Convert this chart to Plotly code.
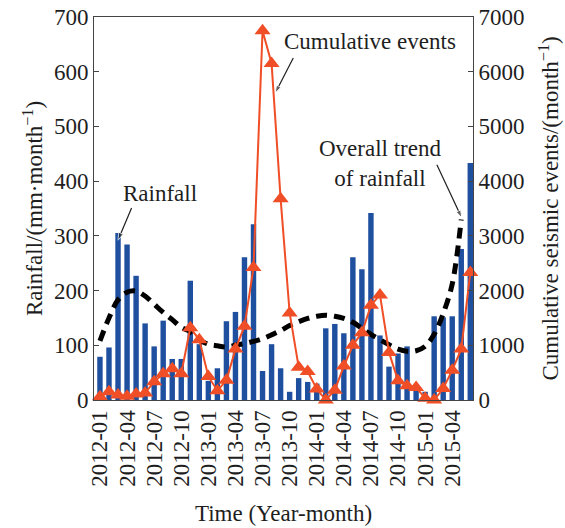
import plotly.graph_objects as go

# Monthly series, 2012-01 .. 2015-06 (month index 0..41)
rainfall = [
    79, 96, 305, 284, 227, 140, 98, 145, 75, 75, 218, 102,      # 2012
    35, 58, 144, 161, 261, 321, 53, 102, 58, 15, 40, 33,        # 2013
    30, 131, 139, 122, 261, 239, 342, 118, 61, 85, 98, 25,      # 2014
    15, 153, 151, 153, 276, 433,                                # 2015
]

events = [
    60, 150, 90, 70, 110, 130, 333, 480, 570, 480, 1320, 1100,          # 2012
    430, 170, 360, 930, 1350, 2420, 6750, 6150, 3680, 1590, 600, 520,   # 2013
    200, 0, 180, 620, 1000, 1230, 1730, 1920, 870, 350, 260, 230,       # 2014
    30, 0, 210, 545, 930, 2330,                                         # 2015
]

# Smoothed overall rainfall trend, months 0..40
trend = [
    108, 150, 183, 197, 199, 190, 175, 160, 147, 133, 125, 110,
    102, 99, 97, 100, 103, 107, 112, 119, 127, 136, 143, 149,
    153, 155, 153, 149, 142, 131, 120, 110, 101, 93, 89, 90,
    98, 120, 158, 212, 330,
]

tick_months = [0, 3, 6, 9, 12, 15, 18, 21, 24, 27, 30, 33, 36, 39]
tick_labels = [
    "2012-01", "2012-04", "2012-07", "2012-10", "2013-01", "2013-04", "2013-07",
    "2013-10", "2014-01", "2014-04", "2014-07", "2014-10", "2015-01", "2015-04",
]

# Callout pointers: (tail month, tail rainfall) -> (head month, head rainfall)
pointers = {
    "Cumulative events": ((21.4, 625), (19.4, 561)),
    "Overall trend of rainfall": ((37.3, 430), (40.05, 333)),
    "Rainfall": ((3.5, 351), (2.0, 292)),
}

month_idx = list(range(len(rainfall)))
trend_idx = list(range(len(trend)))

FONT = "Liberation Serif"
FS = 23
INK = "#1e1e1e"
BLUE = "#1f4f9f"
RED = "#f04e26"

fig = go.Figure()

fig.add_trace(go.Bar(
    x=month_idx, y=rainfall, width=0.6,
    marker=dict(color=BLUE, line=dict(width=0)),
    yaxis="y",
))

fig.add_trace(go.Scatter(
    x=trend_idx, y=trend, mode="lines",
    line=dict(color="black", width=5, dash="11px,7px", shape="spline", smoothing=1.0),
    yaxis="y",
))

# Callout arrows drawn as short lines ending in an arrow marker
for (tx, ty), (hx, hy) in pointers.values():
    fig.add_trace(go.Scatter(
        x=[tx, hx], y=[ty, hy], mode="lines+markers",
        line=dict(color=INK, width=1.2),
        marker=dict(symbol="arrow", size=[0, 8], angleref="previous", color=INK),
        cliponaxis=False, yaxis="y",
    ))

fig.add_trace(go.Scatter(
    x=month_idx, y=events, mode="lines+markers",
    line=dict(color=RED, width=2),
    marker=dict(symbol="triangle-up", size=14, color=RED),
    cliponaxis=False,
    yaxis="y2",
))

label_font = dict(family=FONT, size=FS, color=INK)

annotations = [
    dict(x=29.9, y=655, text="Cumulative events", showarrow=False, font=label_font),
    dict(x=31.0, y=432, text="Overall trend<br>of rainfall", showarrow=False,
         font=label_font, align="center"),
    dict(x=6.6, y=378, text="Rainfall", showarrow=False, font=label_font),
]

fig.update_layout(
    width=565, height=528,
    margin=dict(l=94, r=92, t=17, b=128),
    paper_bgcolor="white", plot_bgcolor="white",
    font=dict(family=FONT, size=FS, color=INK),
    showlegend=False,
    annotations=annotations,
    xaxis=dict(
        range=[-0.66, 41.3], tickvals=tick_months, ticktext=tick_labels,
        tickangle=-90, ticks="", showgrid=False, zeroline=False, automargin=False,
        showline=True, mirror=True, linecolor="#444", linewidth=1,
        title=dict(text="Time (Year-month)", standoff=19,
                   font=dict(family=FONT, size=FS, color=INK)),
    ),
    yaxis=dict(
        range=[0, 700], dtick=100, ticks="inside", ticklen=5, tickcolor="#444",
        automargin=False,
        showgrid=False, zeroline=False, showline=True, linecolor="#444", linewidth=1,
        title=dict(text="Rainfall/(mm·month<sup>−1</sup>)", standoff=4,
                   font=dict(family=FONT, size=FS, color=INK)),
    ),
    yaxis2=dict(
        range=[0, 7000], dtick=1000, overlaying="y", side="right",
        ticks="inside", ticklen=5, tickcolor="#444", automargin=False,
        showgrid=False, zeroline=False, showline=True, linecolor="#444", linewidth=1,
        title=dict(text="Cumulative seismic events/(month<sup>−1</sup>)", standoff=18,
                   font=dict(family=FONT, size=FS, color=INK)),
    ),
)

fig.write_html("out.html")
